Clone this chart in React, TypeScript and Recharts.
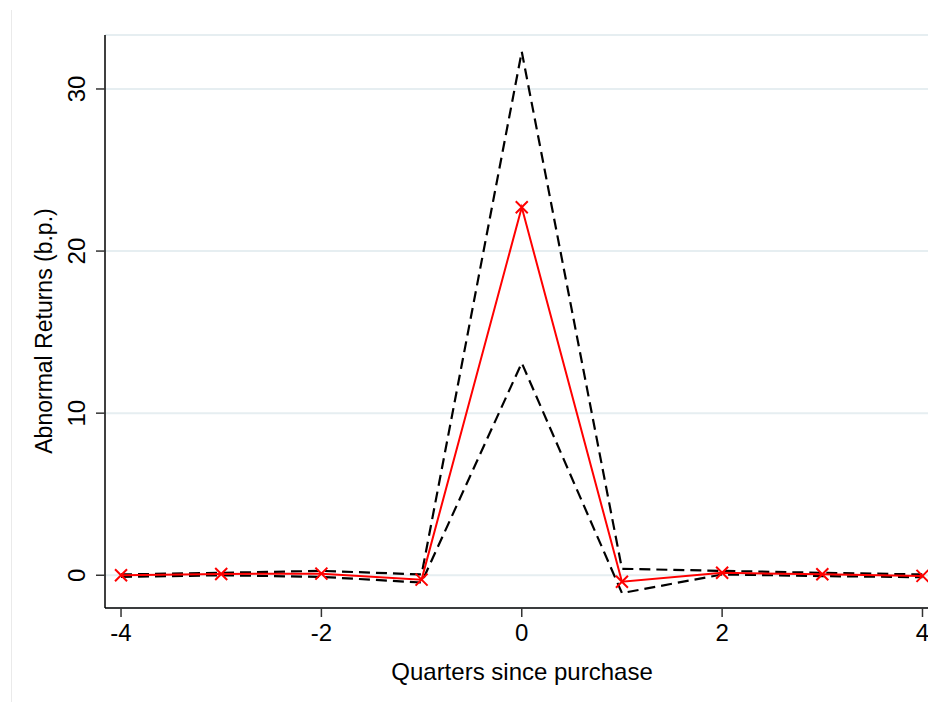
import React from 'react';
import {
  LineChart,
  Line,
  XAxis,
  YAxis,
  CartesianGrid,
} from 'recharts';

// quarters relative to the purchase
const quarters = [-4, -3, -2, -1, 0, 1, 2, 3, 4];
// point estimate (b.p.) and the two confidence bounds
const meanReturns = [0, 0.08, 0.1, -0.27, 22.7, -0.4, 0.15, 0.06, -0.04];
const upperBound = [0.05, 0.15, 0.27, 0.05, 32.3, 0.4, 0.27, 0.15, 0.05];
const lowerBound = [-0.1, 0.0, -0.1, -0.45, 13.1, -1.1, 0.05, -0.05, -0.12];

const xTicks = [-4, -2, 0, 2, 4];
const yTicks = [0, 10, 20, 30];

const data = quarters.map((q, i) => ({
  q,
  mean: meanReturns[i],
  upper: upperBound[i],
  lower: lowerBound[i],
}));

const FONT = 'Liberation Sans, Arial, sans-serif';

// red "x" marker
const CrossDot = (props: any) => {
  const { cx, cy } = props;
  if (cx == null || cy == null) return null;
  const h = 6;
  return (
    <path
      d={`M${cx - h},${cy - h}L${cx + h},${cy + h}M${cx - h},${cy + h}L${cx + h},${cy - h}`}
      stroke="#FF0000"
      strokeWidth={2}
      fill="none"
    />
  );
};

// vertical tick labels, read bottom to top
const YTick = (props: any) => {
  const { y, payload } = props;
  return (
    <text
      x={85}
      y={y}
      transform={`rotate(-90, 85, ${y})`}
      textAnchor="middle"
      fontSize={24}
      fontFamily={FONT}
      fill="#000"
    >
      {payload.value}
    </text>
  );
};

const XTick = (props: any) => {
  const { x, payload } = props;
  return (
    <text
      x={x}
      y={641}
      textAnchor="middle"
      fontSize={24}
      fontFamily={FONT}
      fill="#000"
    >
      {payload.value}
    </text>
  );
};

export default function App() {
  return (
    <div
      style={{
        position: 'absolute',
        left: 0,
        top: 0,
        width: 928,
        height: 702,
        background: '#fff',
        overflow: 'hidden',
      }}
    >
      {/* faint graph-region border */}
      <div
        style={{
          position: 'absolute',
          left: 11,
          top: 10,
          width: 1,
          height: 700,
          background: '#EAEAEA',
        }}
      />
      <LineChart
        width={928}
        height={702}
        data={data}
        margin={{ top: 35, right: 0, left: 0, bottom: 0 }}
        style={{ position: 'absolute', left: 0, top: 0 }}
      >
        <CartesianGrid
          horizontal
          vertical={false}
          stroke="#E6EEF1"
          strokeWidth={2}
        />
        <XAxis
          type="number"
          dataKey="q"
          domain={[-4.16, 4.055]}
          allowDataOverflow
          ticks={xTicks}
          tickSize={9}
          height={94}
          stroke="#000"
          strokeWidth={1.5}
          tickLine={{ stroke: '#333', strokeWidth: 1.5 }}
          tick={<XTick />}
          label={{
            content: () => (
              <text
                x={522}
                y={680}
                textAnchor="middle"
                fontSize={24}
                fontFamily={FONT}
                fill="#000"
              >
                Quarters since purchase
              </text>
            ),
          }}
        />
        <YAxis
          type="number"
          domain={[-2.02, 33.33]}
          allowDataOverflow
          ticks={yTicks}
          width={105}
          tickSize={9}
          stroke="#000"
          strokeWidth={1.5}
          tickLine={{ stroke: '#333', strokeWidth: 1.5 }}
          tick={<YTick />}
          label={{
            content: () => (
              <text
                x={52}
                y={331}
                transform="rotate(-90, 52, 331)"
                textAnchor="middle"
                fontSize={23}
                fontFamily={FONT}
                fill="#000"
              >
                Abnormal Returns (b.p.)
              </text>
            ),
          }}
        />
        <Line
          type="linear"
          dataKey="upper"
          stroke="#000"
          strokeWidth={2.2}
          strokeDasharray="11 6"
          dot={false}
          activeDot={false}
          isAnimationActive={false}
        />
        <Line
          type="linear"
          dataKey="lower"
          stroke="#000"
          strokeWidth={2.2}
          strokeDasharray="11 6"
          dot={false}
          activeDot={false}
          isAnimationActive={false}
        />
        <Line
          type="linear"
          dataKey="mean"
          stroke="#FF0000"
          strokeWidth={2}
          dot={<CrossDot />}
          activeDot={false}
          isAnimationActive={false}
        />
      </LineChart>
    </div>
  );
}
